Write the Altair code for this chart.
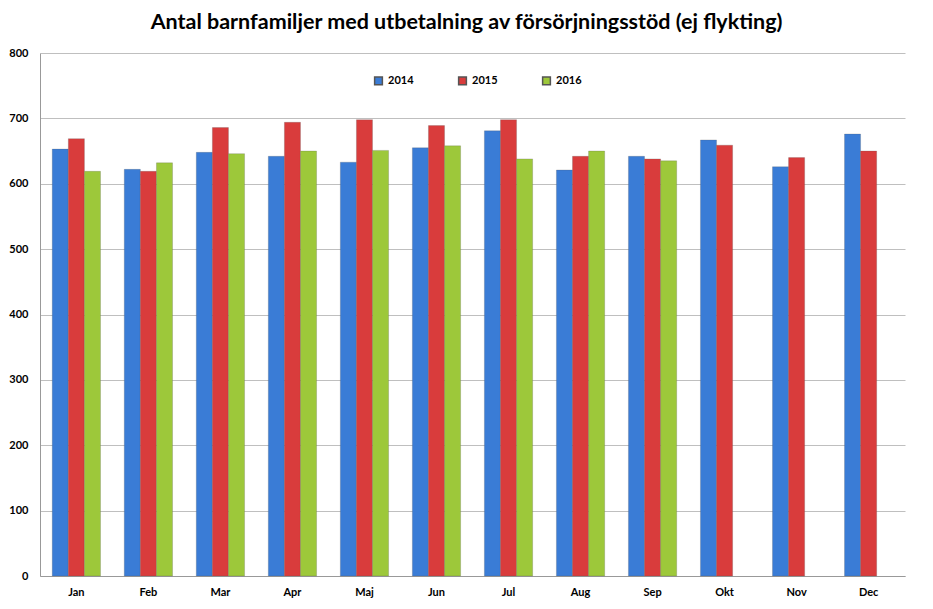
import altair as alt
import pandas as pd

months = ["Jan", "Feb", "Mar", "Apr", "Maj", "Jun", "Jul", "Aug", "Sep", "Okt", "Nov", "Dec"]
years = ["2014", "2015", "2016"]
v2014 = [653, 622, 648, 642, 633, 655, 681, 621, 642, 667, 626, 676]
v2015 = [669, 619, 686, 694, 698, 689, 698, 642, 638, 659, 640, 650]
v2016 = [619, 632, 646, 650, 651, 658, 638, 650, 635]
colors = ["#3a7cd6", "#d93c3c", "#9dc83a"]

rows = []
for yr, vals in zip(years, [v2014, v2015, v2016]):
    for m, v in zip(months, vals):
        rows.append({"Månad": m, "År": yr, "Antal": v})
df = pd.DataFrame(rows)

FONT = "Lato"

chart = (
    alt.Chart(df)
    .mark_bar(stroke="#555555", strokeWidth=0.4, strokeOpacity=0.6)
    .encode(
        x=alt.X("Månad:N", sort=months, title=None,
                scale=alt.Scale(paddingInner=0.33, paddingOuter=0.17),
                axis=alt.Axis(labelAngle=0, ticks=False, labelPadding=10,
                              labelFont=FONT, labelFontWeight="bold", labelFontSize=11,
                              labelColor="#000000", domainColor="#999999")),
        xOffset=alt.XOffset("År:N", scale=alt.Scale(domain=years)),
        y=alt.Y("Antal:Q", title=None,
                scale=alt.Scale(domain=[0, 800]),
                axis=alt.Axis(values=list(range(0, 801, 100)), ticks=False, labelPadding=12,
                              labelFont=FONT, labelFontWeight="bold", labelFontSize=11,
                              labelColor="#000000", gridColor="#bfbfbf", domainColor="#999999")),
        color=alt.Color("År:N", scale=alt.Scale(domain=years, range=colors),
                        legend=alt.Legend(title=None, orient="none", legendX=333, legendY=22,
                                          direction="horizontal", symbolType="square",
                                          symbolSize=60, columnPadding=41,
                                          labelFont=FONT, labelFontWeight="bold", labelFontSize=11,
                                          labelColor="#000000")),
    )
    .properties(
        width=865, height=523,
        title=alt.Title("Antal barnfamiljer med utbetalning av försörjningsstöd (ej flykting)",
                        font=FONT, fontSize=21.5, fontWeight="bold", color="#000000", offset=14,
                        dx=-6),
        padding={"left": 0, "top": 3, "right": 5, "bottom": 5},
    )
    .configure_view(stroke=None)
)

chart.save("out.html", embed_options={"renderer": "svg", "actions": False})
